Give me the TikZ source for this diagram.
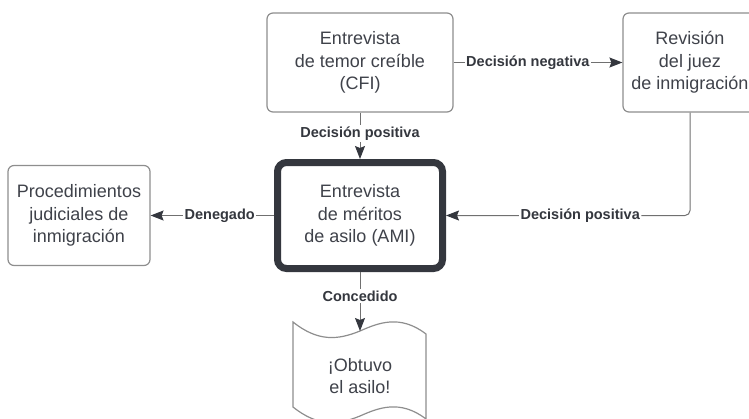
\documentclass[tikz,border=0pt]{standalone}
\usepackage{fontspec}
\setmainfont{Liberation Sans}
\usetikzlibrary{arrows.meta}
\definecolor{txt}{HTML}{3F424A}
\definecolor{bord}{HTML}{8E8E8E}
\definecolor{lin}{HTML}{707070}
\definecolor{dark}{HTML}{34373E}
\begin{document}
\begin{tikzpicture}[x=1pt,y=-1pt,
 box/.style={draw=bord, line width=1.2pt, rounded corners=6pt, fill=white, text=txt, align=center, font=\fontsize{18}{22.5}\selectfont, inner sep=0pt},
 lab/.style={fill=white, text=dark, font=\fontsize{14.5}{17}\selectfont\bfseries, inner sep=1.5pt},
 conn/.style={draw=lin, line width=1pt, -{Stealth[length=13pt,width=10pt,inset=2pt,color=dark]}},
]
\useasboundingbox (0,0) rectangle (749,418);
\clip (0,0) rectangle (749,418);

\node[box, minimum width=186pt, minimum height=99pt] (cfi) at (360,62.5) {Entrevista\\de temor creíble\\(CFI)};
\node[box, minimum width=134pt, minimum height=99pt] (rev) at (690,62.5) {Revisión\\del juez\\de inmigración};
\node[box, minimum width=142pt, minimum height=100pt] (proc) at (79,215.5) {Procedimientos\\judiciales de\\inmigración};
\node[box, draw=dark, line width=7pt, rounded corners=9pt, minimum width=165pt, minimum height=106pt] (ami) at (360,215.5) {Entrevista\\de méritos\\de asilo (AMI)};

\draw[draw=bord, line width=1.2pt, fill=white] (293,322) .. controls (318,342) and (338,340) .. (360,331) coordinate (doctop) .. controls (378,323) and (400,314) .. (426,334) -- (426,419) .. controls (400,399) and (378,408) .. (360,416) .. controls (338,425) and (318,427) .. (293,407) -- cycle;
\node[text=txt, align=center, font=\fontsize{18}{22}\selectfont] (doc) at (360,376) {¡Obtuvo\\el asilo!};

\draw[conn] (cfi) -- node[lab, pos=0.44]{Decisión negativa} (rev);
\draw[conn] (cfi) -- node[lab, pos=0.45]{Decisión positiva} (ami);
\draw[conn, rounded corners=5pt] (rev.south) |- node[lab, pos=0.725]{Decisión positiva} (ami.east);
\draw[conn] (ami) -- node[lab, pos=0.44]{Denegado} (proc);
\draw[conn] (ami) -- node[lab, pos=0.41]{Concedido} (doctop);
\end{tikzpicture}
\end{document}
